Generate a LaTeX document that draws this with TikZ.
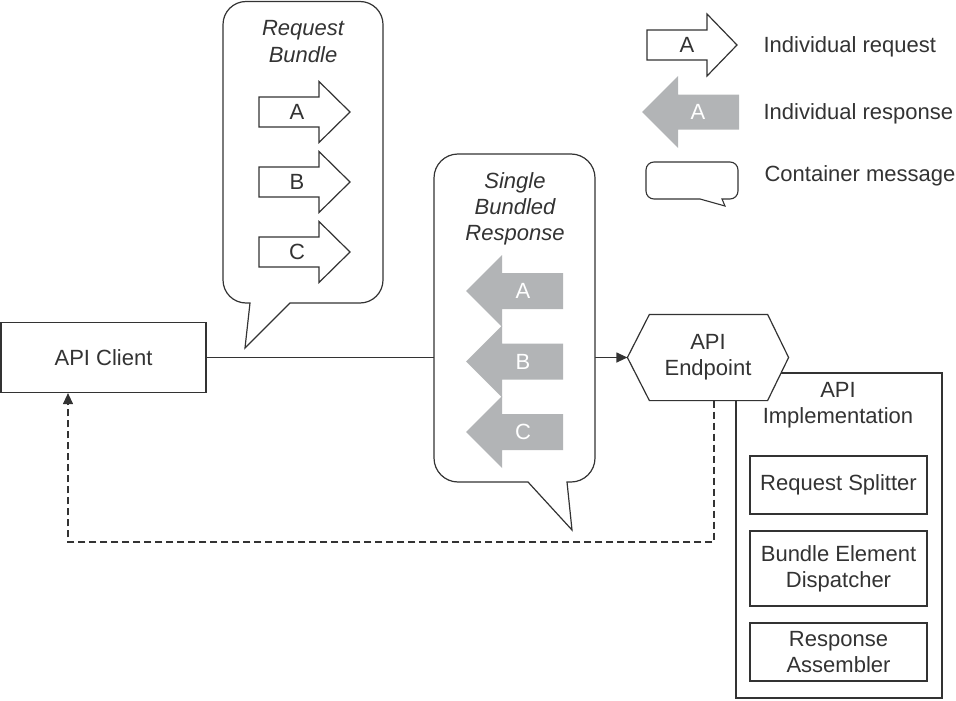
\documentclass[tikz,border=0pt]{standalone}
\usepackage{fontspec}
\setmainfont{Liberation Sans}
\usetikzlibrary{arrows.meta}
\definecolor{ink}{RGB}{51,51,51}
\definecolor{respgray}{RGB}{178,180,182}
\begin{document}
\begin{tikzpicture}[x=1pt,y=-1pt, line width=1.2pt,
  every node/.style={font=\fontsize{22}{26}\selectfont, text=ink},
  box/.style={draw=ink, fill=white, inner sep=0pt, align=center},
  lbl/.style={inner sep=0pt, align=center},
  outline/.style={draw=ink, fill=white, line join=miter},
  resp/.style={fill=respgray, draw=none},
  conn/.style={draw=ink, -{Triangle[length=11pt,width=10pt]}},
  dashconn/.style={conn, dash pattern=on 7pt off 4pt}]
\useasboundingbox (0,0) rectangle (956,701);

% main nodes
\node[box, minimum width=205, minimum height=70] (client) at (103.5,357.5) {API Client};
\node[inner sep=0pt, minimum width=160, minimum height=85] (ep) at (708,357.5) {};
\node[box, minimum width=206, minimum height=325] (impl) at (839,535.5) {};
\node[lbl] (impltitle) at (838,405.5) {API\\Implementation};
\node[box, minimum width=177, minimum height=58] (split) at (838.5,485) {Request Splitter};
\node[box, minimum width=177, minimum height=75] (disp) at (838.5,568.5) {Bundle Element\\Dispatcher};
\node[box, minimum width=177, minimum height=58] (asm) at (838.5,652) {Response\\Assembler};

% endpoint hexagon
\draw[outline] (ep.west) -- ([xshift=22pt]ep.north west) -- ([xshift=-21pt]ep.north east)
  -- (ep.east) -- ([xshift=-21pt]ep.south east) -- ([xshift=22pt]ep.south west) -- cycle;
\node[lbl] (eptext) at (ep.center) {API\\Endpoint};

% connectors
\coordinate (d2) at (68,542);
\draw[conn] (client.east) -- (ep.west);
\draw[dashconn] ([xshift=6pt]ep.south) |- (d2) -- (d2 |- client.south);

% request bundle callout
\draw[outline] (250,303) -- (246,303) arc[start angle=90,end angle=180,radius=23]
  -- (223,24.5) arc[start angle=180,end angle=270,radius=23]
  -- (360,1.5) arc[start angle=270,end angle=360,radius=23]
  -- (383,280) arc[start angle=0,end angle=90,radius=23]
  -- (290,303) -- (245,348) -- cycle;
\node[lbl, font=\fontsize{22}{27}\selectfont\itshape] (reqtitle) at (303,41.5) {Request\\Bundle};
\foreach \c/\t in {112/A,182/B,252/C}{
  \draw[outline] (259,{\c-15}) -- (319,{\c-15}) -- (319,{\c-30.5}) -- (350,\c)
    -- (319,{\c+30.5}) -- (319,{\c+15}) -- (259,{\c+15}) -- cycle;
  \node[lbl] (req\t) at (297,\c) {\t};
}

% single bundled response callout
\draw[outline] (528,482) -- (458,482) arc[start angle=90,end angle=180,radius=24]
  -- (434,178) arc[start angle=180,end angle=270,radius=24]
  -- (571,154) arc[start angle=270,end angle=360,radius=24]
  -- (595,458) arc[start angle=0,end angle=90,radius=24]
  -- (567,482) -- (572,530) -- cycle;
\node[lbl, font=\fontsize{22}{26}\selectfont\itshape] (resptitle) at (515,209) {Single\\Bundled\\Response};
\foreach \c/\t in {291/A,361.5/B,432/C}{
  \fill[respgray] (563,{\c-18}) -- (502,{\c-18}) -- (502,{\c-36}) -- (466,\c)
    -- (502,{\c+36}) -- (502,{\c+18}) -- (563,{\c+18}) -- cycle;
  \node[lbl, text=white] (resp\t) at (523,\c) {\t};
}

% legend
\draw[outline] (647,30) -- (707,30) -- (707,14) -- (737,45) -- (707,76) -- (707,60) -- (647,60) -- cycle;
\node[lbl] (legreqA) at (687,45) {A};
\node[lbl, anchor=west] (legreq) at (763,46.5) {Individual request};
\fill[respgray] (739,94.5) -- (678,94.5) -- (678,76) -- (642,112) -- (678,148) -- (678,129.5) -- (739,129.5) -- cycle;
\node[lbl, text=white] (legrespA) at (698,112) {A};
\node[lbl, anchor=west] (legresp) at (763,113.5) {Individual response};
\draw[outline, line width=1.1pt] (700,199) -- (654,199) arc[start angle=90,end angle=180,radius=8]
  -- (646,170) arc[start angle=180,end angle=270,radius=8]
  -- (730,162) arc[start angle=270,end angle=360,radius=8]
  -- (738,191) arc[start angle=0,end angle=90,radius=8]
  -- (722,199) -- (725,206) -- cycle;
\node[lbl, anchor=west] (legcont) at (764,175.5) {Container message};
\end{tikzpicture}
\end{document}
